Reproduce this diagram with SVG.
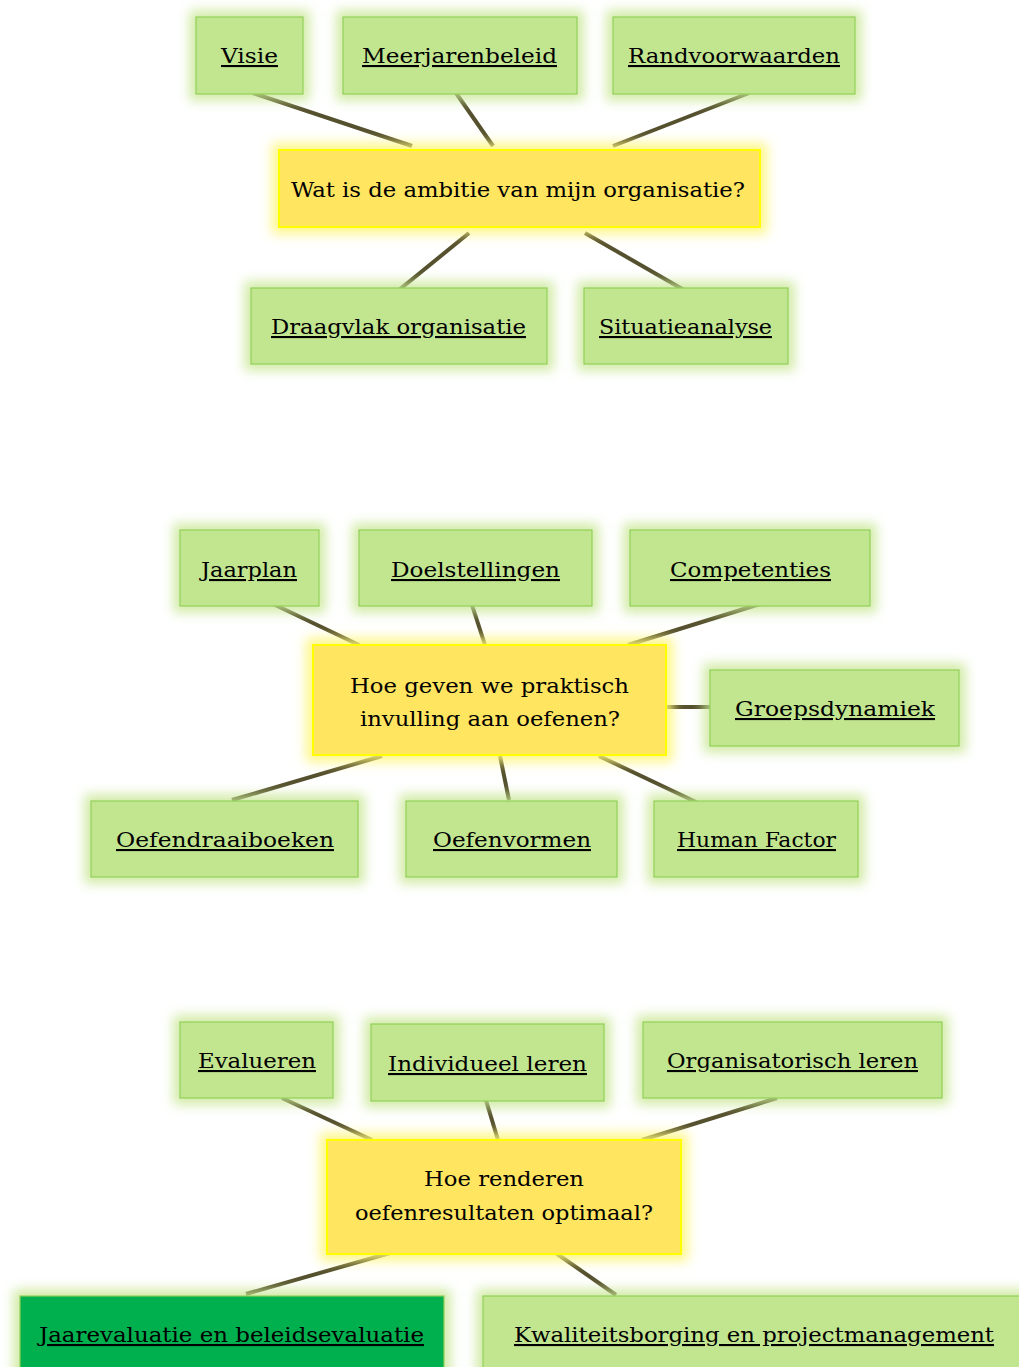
<svg xmlns="http://www.w3.org/2000/svg" width="1019" height="1367" viewBox="0 0 1019 1367">
<defs>
<filter id="glowG" x="-30%" y="-40%" width="160%" height="180%">
<feMorphology in="SourceAlpha" operator="dilate" radius="6" result="d"/>
<feGaussianBlur in="d" stdDeviation="6" result="b"/>
<feFlood flood-color="#c6e68f" flood-opacity="0.8"/>
<feComposite in2="b" operator="in" result="g"/>
<feMerge><feMergeNode in="g"/><feMergeNode in="SourceGraphic"/></feMerge>
</filter>
<filter id="glowY" x="-30%" y="-40%" width="160%" height="180%">
<feMorphology in="SourceAlpha" operator="dilate" radius="6" result="d"/>
<feGaussianBlur in="d" stdDeviation="6" result="b"/>
<feFlood flood-color="#fdf67a" flood-opacity="0.9"/>
<feComposite in2="b" operator="in" result="g"/>
<feMerge><feMergeNode in="g"/><feMergeNode in="SourceGraphic"/></feMerge>
</filter>
</defs>
<style>
.g{fill:#c2e590;stroke:#8fd055;stroke-width:1.2;filter:url(#glowG)}
.dg{fill:#00b050;stroke:#8fd055;stroke-width:1.2;filter:url(#glowG)}
.y{fill:#ffe560;stroke:#ffff00;stroke-width:2;filter:url(#glowY)}
.t{font-family:"DejaVu Serif Condensed","DejaVu Serif",serif;font-stretch:condensed;font-size:21px;fill:#000;text-anchor:middle}
.u{text-decoration:underline}
.c line{stroke:#55502e;stroke-width:4;stroke-linecap:butt}
</style>
<rect width="1019" height="1367" fill="#ffffff"/>

<g id="connectors" class="c">
<line x1="253" y1="93" x2="412" y2="146"/>
<line x1="456" y1="93" x2="493" y2="146"/>
<line x1="749" y1="93" x2="613" y2="146"/>
<line x1="469" y1="233" x2="399" y2="290"/>
<line x1="585" y1="233" x2="684" y2="290"/>
<line x1="269" y1="602" x2="359" y2="645"/>
<line x1="471" y1="602" x2="485" y2="645"/>
<line x1="763" y1="603" x2="628" y2="645"/>
<line x1="666" y1="707" x2="710" y2="707"/>
<line x1="232" y1="800" x2="382" y2="756"/>
<line x1="500" y1="756" x2="509" y2="800"/>
<line x1="599" y1="756" x2="696" y2="802"/>
<line x1="282" y1="1098" x2="372" y2="1140"/>
<line x1="485" y1="1097" x2="498" y2="1140"/>
<line x1="777" y1="1098" x2="642" y2="1140"/>
<line x1="246" y1="1294" x2="397" y2="1251"/>
<line x1="553" y1="1251" x2="616" y2="1295"/>
</g>

<g id="visie"><rect class="g" x="196" y="17" width="107" height="77"/><text class="t u" x="249.5" y="63" textLength="57" lengthAdjust="spacingAndGlyphs">Visie</text></g>
<g id="meerjarenbeleid"><rect class="g" x="343" y="17" width="234" height="77"/><text class="t u" x="459.5" y="63" textLength="195" lengthAdjust="spacingAndGlyphs">Meerjarenbeleid</text></g>
<g id="randvoorwaarden"><rect class="g" x="613" y="17" width="242" height="77"/><text class="t u" x="734" y="63" textLength="212" lengthAdjust="spacingAndGlyphs">Randvoorwaarden</text></g>
<g id="ambitie"><rect class="y" x="279" y="150" width="481" height="77"/><text class="t" x="518" y="197" textLength="454" lengthAdjust="spacingAndGlyphs">Wat is de ambitie van mijn organisatie?</text></g>
<g id="draagvlak"><rect class="g" x="251" y="288" width="296" height="76"/><text class="t u" x="398.5" y="334" textLength="255" lengthAdjust="spacingAndGlyphs">Draagvlak organisatie</text></g>
<g id="situatieanalyse"><rect class="g" x="584" y="288" width="204" height="76"/><text class="t u" x="685.5" y="334" textLength="173" lengthAdjust="spacingAndGlyphs">Situatieanalyse</text></g>

<g id="jaarplan"><rect class="g" x="180" y="530" width="139" height="76"/><text class="t u" x="249" y="577" textLength="96" lengthAdjust="spacingAndGlyphs">Jaarplan</text></g>
<g id="doelstellingen"><rect class="g" x="359" y="530" width="233" height="76"/><text class="t u" x="475.5" y="577" textLength="169" lengthAdjust="spacingAndGlyphs">Doelstellingen</text></g>
<g id="competenties"><rect class="g" x="630" y="530" width="240" height="76"/><text class="t u" x="750.5" y="577" textLength="161" lengthAdjust="spacingAndGlyphs">Competenties</text></g>
<g id="praktisch"><rect class="y" x="313" y="645" width="353" height="110"/><text class="t" x="489.5" y="693" textLength="279" lengthAdjust="spacingAndGlyphs">Hoe geven we praktisch</text><text class="t" x="490" y="726" textLength="260" lengthAdjust="spacingAndGlyphs">invulling aan oefenen?</text></g>
<g id="groepsdynamiek"><rect class="g" x="710" y="670" width="249" height="76"/><text class="t u" x="835" y="716" textLength="200" lengthAdjust="spacingAndGlyphs">Groepsdynamiek</text></g>
<g id="oefendraaiboeken"><rect class="g" x="91" y="801" width="267" height="76"/><text class="t u" x="225" y="847" textLength="218" lengthAdjust="spacingAndGlyphs">Oefendraaiboeken</text></g>
<g id="oefenvormen"><rect class="g" x="406" y="801" width="211" height="76"/><text class="t u" x="512" y="847" textLength="158" lengthAdjust="spacingAndGlyphs">Oefenvormen</text></g>
<g id="humanfactor"><rect class="g" x="654" y="801" width="204" height="76"/><text class="t u" x="756.5" y="847" textLength="159" lengthAdjust="spacingAndGlyphs">Human Factor</text></g>

<g id="evalueren"><rect class="g" x="180" y="1022" width="153" height="76"/><text class="t u" x="257" y="1068" textLength="118" lengthAdjust="spacingAndGlyphs">Evalueren</text></g>
<g id="individueel"><rect class="g" x="371" y="1024" width="233" height="77"/><text class="t u" x="487.5" y="1071" textLength="199" lengthAdjust="spacingAndGlyphs">Individueel leren</text></g>
<g id="organisatorisch"><rect class="g" x="643" y="1022" width="299" height="76"/><text class="t u" x="792.5" y="1068" textLength="251" lengthAdjust="spacingAndGlyphs">Organisatorisch leren</text></g>
<g id="renderen"><rect class="y" x="327" y="1140" width="354" height="114"/><text class="t" x="504" y="1186" textLength="160" lengthAdjust="spacingAndGlyphs">Hoe renderen</text><text class="t" x="504" y="1220" textLength="298" lengthAdjust="spacingAndGlyphs">oefenresultaten optimaal?</text></g>
<g id="jaarevaluatie"><rect class="dg" x="20" y="1296" width="424" height="90"/><text class="t u" x="231.5" y="1342" textLength="385" lengthAdjust="spacingAndGlyphs">Jaarevaluatie en beleidsevaluatie</text></g>
<g id="kwaliteitsborging"><rect class="g" x="483" y="1296" width="560" height="90"/><text class="t u" x="754" y="1342" textLength="480" lengthAdjust="spacingAndGlyphs">Kwaliteitsborging en projectmanagement</text></g>
</svg>
